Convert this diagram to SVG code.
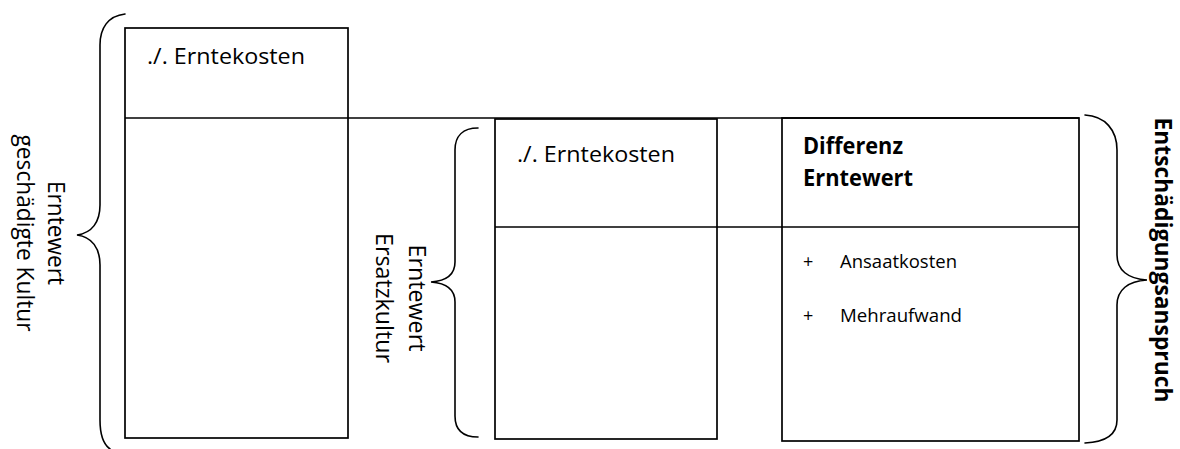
<svg xmlns="http://www.w3.org/2000/svg" width="1180" height="449" viewBox="0 0 1180 449">
<style>
  .box { fill: none; stroke: #000; stroke-width: 1.7; }
  .ln { stroke: #000; stroke-width: 1.7; fill: none; }
  .brace { fill: none; stroke: #000; stroke-width: 1.6; stroke-linecap: round; }
  text { font-family: "Open Sans", "Liberation Sans", sans-serif; fill: #000; }
  .t { font-size: 21px; }
  .s { font-size: 18px; }
  .b { font-size: 23px; font-weight: bold; }
  .r { font-size: 24px; }
  .rb { font-size: 23px; font-weight: bold; }
</style>
<rect width="1180" height="449" fill="#fff"/>

<g id="node-geschaedigte-kultur">
  <rect class="box" x="125" y="28" width="223" height="410"/>
  <text class="t" x="147" y="64" textLength="158" lengthAdjust="spacingAndGlyphs">./. Erntekosten</text>
</g>

<g id="node-ersatzkultur">
  <rect class="box" x="495" y="119" width="222" height="320"/>
  <text class="t" x="517" y="162" textLength="158" lengthAdjust="spacingAndGlyphs">./. Erntekosten</text>
</g>

<g id="node-differenz">
  <rect class="box" x="782" y="118" width="297" height="323"/>
  <text class="b" x="803" y="154" textLength="100" lengthAdjust="spacingAndGlyphs">Differenz</text>
  <text class="b" x="803" y="186" textLength="110" lengthAdjust="spacingAndGlyphs">Erntewert</text>
  <text class="s" x="803" y="268">+</text>
  <text class="s" x="840" y="268" textLength="117" lengthAdjust="spacingAndGlyphs">Ansaatkosten</text>
  <text class="s" x="803" y="322">+</text>
  <text class="s" x="840" y="322" textLength="122" lengthAdjust="spacingAndGlyphs">Mehraufwand</text>
</g>

<g id="connectors">
  <line class="ln" x1="125" y1="118" x2="1079" y2="118"/>
  <line class="ln" x1="495" y1="227" x2="1079" y2="227"/>
</g>

<g id="brace-left">
  <path class="brace" d="M125,14 C108,16 100,28 100,45 L100,205 C100,222 92,233 77,235 C92,237 100,248 100,265 L100,420 C100,435 103,444 110,449"/>
  <text class="r" transform="translate(48,233) rotate(90)" text-anchor="middle" textLength="104" lengthAdjust="spacingAndGlyphs">Erntewert</text>
  <text class="r" transform="translate(17,233) rotate(90)" text-anchor="middle" textLength="197" lengthAdjust="spacingAndGlyphs">geschädigte Kultur</text>
</g>

<g id="brace-middle">
  <path class="brace" d="M478,128 C463,128 455,136 455,150 L455,262 C455,275 445,281 431,282 C445,283 455,289 455,302 L455,416 C455,430 463,437 478,437"/>
  <text class="r" transform="translate(409,298) rotate(90)" text-anchor="middle" textLength="107" lengthAdjust="spacingAndGlyphs">Erntewert</text>
  <text class="r" transform="translate(376,298) rotate(90)" text-anchor="middle" textLength="130" lengthAdjust="spacingAndGlyphs">Ersatzkultur</text>
</g>

<g id="brace-right">
  <path class="brace" d="M1085,115 C1105,116 1117,130 1117,150 L1117,255 C1117,270 1128,279 1147,280 C1128,281 1117,290 1117,305 L1117,420 C1117,435 1105,442 1085,443"/>
  <text class="rb" transform="translate(1155,260) rotate(90)" text-anchor="middle" textLength="285" lengthAdjust="spacingAndGlyphs">Entschädigungsanspruch</text>
</g>
</svg>
